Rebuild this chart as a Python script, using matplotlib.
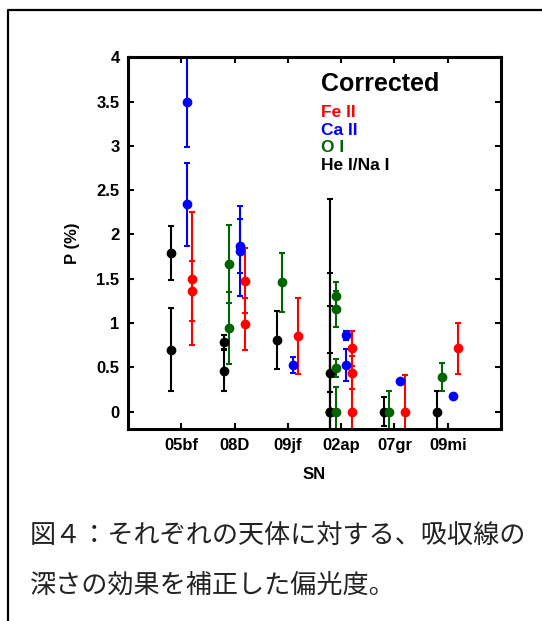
import matplotlib
matplotlib.use("Agg")
import matplotlib.pyplot as plt
from matplotlib.lines import Line2D

# SN names on the x axis
sn_names = ["05bf", "08D", "09jf", "02ap", "07gr", "09mi"]

# Fe II (red)
fe_idx = [1, 1, 2, 2, 3, 4, 4, 4, 5, 6]
fe_p = [1.50, 1.36, 1.48, 0.99, 0.85, 0.715, 0.44, 0.0, 0.0, 0.715]
fe_err = [0.75, 0.34, 0.37, 0.29, 0.43, 0.20, 0.19, 0.40, 0.41, 0.285]

# Ca II (blue)
ca_idx = [1, 1, 2, 2, 3, 4, 4, 5, 6]
ca_p = [3.50, 2.34, 1.87, 1.81, 0.53, 0.86, 0.53, 0.34, 0.18]
ca_err = [0.51, 0.47, 0.31, 0.51, 0.09, 0.05, 0.18, 0.02, 0.02]

# O I (green)
o_idx = [2, 2, 3, 4, 4, 4, 4, 5, 6]
o_p = [1.67, 0.945, 1.46, 1.30, 1.16, 0.49, 0.0, 0.0, 0.39]
o_err = [0.44, 0.41, 0.33, 0.16, 0.20, 0.10, 0.28, 0.23, 0.16]

# He I / Na I (black)
he_idx = [1, 1, 2, 2, 3, 4, 4, 4, 4, 5, 6]
he_p = [1.79, 0.70, 0.79, 0.46, 0.81, 0.0, 0.0, 0.0, 0.44, 0.0, 0.0]
he_err = [0.30, 0.47, 0.08, 0.23, 0.33, 2.40, 1.56, 1.19, 0.22, 0.16, 0.23]

series = [
    (he_idx, he_p, he_err, -0.2, "black", "He I/Na I"),
    (o_idx, o_p, o_err, -0.1, "#006400", "O I"),
    (ca_idx, ca_p, ca_err, 0.1, "blue", "Ca II"),
    (fe_idx, fe_p, fe_err, 0.2, "red", "Fe II"),
]

plt.rcParams['font.family'] = ['Liberation Sans', 'DejaVu Sans']

fig = plt.figure(figsize=(5.42, 6.21), dpi=100)
ax = fig.add_axes([0.236, 0.3087, 0.6884, 0.599])

for idx, p, err, off, col, name in series:
    xs = [i + off for i in idx]
    ax.errorbar(xs, p, yerr=err, fmt='o', color=col, ecolor=col, ms=6,
                elinewidth=1.5, capsize=2.5, capthick=1.5, clip_on=True)

ax.set_xlim(0, 7)
ax.set_ylim(-0.2, 4)
ax.set_xticks(range(1, 7))
ax.set_xticklabels(sn_names)
ax.set_yticks([0, 0.5, 1, 1.5, 2, 2.5, 3, 3.5, 4])
ax.set_yticklabels(["0", "0.5", "1", "1.5", "2", "2.5", "3", "3.5", "4"])
ax.tick_params(direction='in', length=4, width=1.5, top=True, right=True,
               labelsize=12, pad=6)
for lab in ax.get_xticklabels() + ax.get_yticklabels():
    lab.set_fontweight('bold')
for sp in ax.spines.values():
    sp.set_linewidth(2.2)

ax.set_xlabel("SN", fontsize=12, fontweight='bold', labelpad=10)
ax.set_ylabel("P (%)", fontsize=12, fontweight='bold', labelpad=12)

# legend-like labels
ax.text(0.517, 0.909, "Corrected", transform=ax.transAxes, fontsize=18,
        fontweight='bold', va='baseline')
y0 = 0.840
for k, (idx, p, err, off, col, name) in enumerate(series[::-1]):
    ax.text(0.517, y0 - k * 0.0476, name, transform=ax.transAxes, fontsize=12.5,
            fontweight='bold', color=col, va='baseline')

# caption
cap_font = ['Noto Sans CJK JP', 'DejaVu Sans']
fig.text(30 / 542, 1 - 535 / 621, "図４：それぞれの天体に対する、吸収線の",
         fontsize=18.8, family=cap_font, va='center', ha='left', color='#222222')
fig.text(30 / 542, 1 - 585 / 621, "深さの効果を補正した偏光度。",
         fontsize=18.8, family=cap_font, va='center', ha='left', color='#222222')

# page frame (left and top edges)
fig.add_artist(Line2D([7.5 / 542, 7.5 / 542, 1.0], [0.0, 1 - 10 / 621, 1 - 10 / 621],
                      transform=fig.transFigure, color='black', lw=1.6))

fig.savefig("out.png", dpi=100)
